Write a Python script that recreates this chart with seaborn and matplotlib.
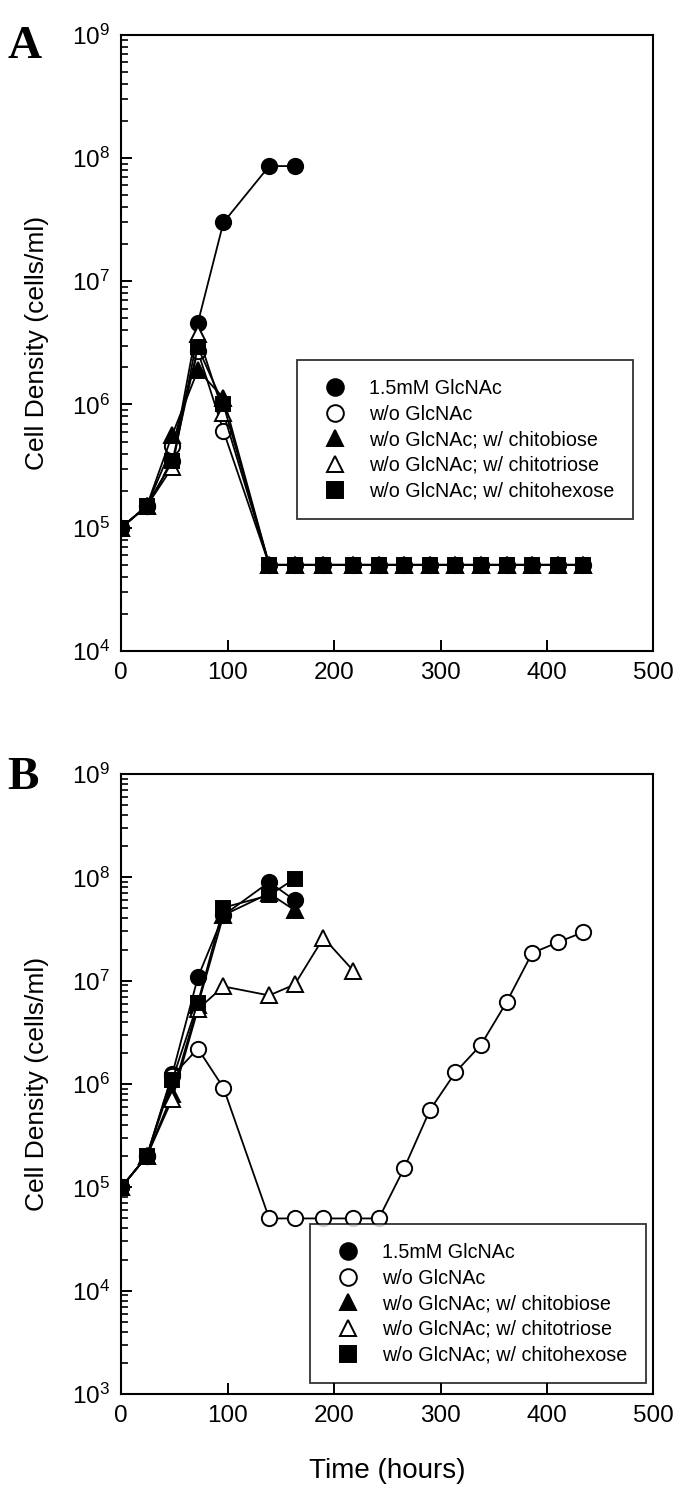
import matplotlib
matplotlib.use("Agg")
import matplotlib.pyplot as plt
from matplotlib.lines import Line2D
from matplotlib.ticker import LogLocator, LogFormatterMathtext, MultipleLocator, NullFormatter
import pandas as pd
import seaborn as sns

# ---- data ----
labels = ["1.5mM GlcNAc", "w/o GlcNAc", "w/o GlcNAc; w/ chitobiose",
          "w/o GlcNAc; w/ chitotriose", "w/o GlcNAc; w/ chitohexose"]

hours_short = [0, 24, 48, 72, 96, 139, 163]
hours_tri = [0, 24, 48, 72, 96, 139, 163, 190, 218]
hours_long = [0, 24, 48, 72, 96, 139, 163, 190, 218, 242, 266, 290, 314, 338, 362, 386, 410, 434]

# panel A
glc_a = [1e5, 1.5e5, 3.5e5, 4.6e6, 3.0e7, 8.6e7, 8.6e7]
woglc_a = [1e5, 1.5e5, 4.6e5, 2.7e6, 6.1e5, 5e4, 5e4, 5e4, 5e4, 5e4, 5e4, 5e4, 5e4, 5e4, 5e4, 5e4, 5e4, 5e4]
biose_a = [1e5, 1.5e5, 5.7e5, 1.9e6, 1.13e6, 5e4, 5e4, 5e4, 5e4, 5e4, 5e4, 5e4, 5e4, 5e4, 5e4, 5e4, 5e4, 5e4]
triose_a = [1e5, 1.5e5, 3.1e5, 3.7e6, 8.5e5, 5e4, 5e4, 5e4, 5e4, 5e4, 5e4, 5e4, 5e4, 5e4, 5e4, 5e4, 5e4, 5e4]
hexose_a = [1e5, 1.5e5, 3.45e5, 2.9e6, 1.0e6, 5e4, 5e4, 5e4, 5e4, 5e4, 5e4, 5e4, 5e4, 5e4, 5e4, 5e4, 5e4, 5e4]

# panel B
glc_b = [1e5, 2e5, 1.25e6, 1.08e7, 4.3e7, 9.0e7, 6.0e7]
woglc_b = [1e5, 2e5, 1.2e6, 2.2e6, 9.2e5, 5e4, 5e4, 5e4, 5e4, 5e4,
           1.55e5, 5.6e5, 1.3e6, 2.4e6, 6.2e6, 1.85e7, 2.35e7, 2.95e7]
biose_b = [1e5, 2e5, 8e5, 5.8e6, 4.3e7, 7.0e7, 4.8e7]
triose_b = [1e5, 2e5, 7.2e5, 5.3e6, 8.8e6, 7.2e6, 9.2e6, 2.6e7, 1.25e7]
hexose_b = [1e5, 2e5, 1.1e6, 6.1e6, 5.1e7, 6.7e7, 9.7e7]

markers = ["o", "o", "^", "^", "s"]
faces = ["black", "white", "black", "white", "black"]


def long_table(series):
    rows = []
    for lab, (t, v) in zip(labels, series):
        rows.append(pd.DataFrame({"hours": t, "cells": v, "series": lab}))
    return pd.concat(rows, ignore_index=True)


df_a = long_table([(hours_short, glc_a), (hours_long, woglc_a), (hours_long, biose_a),
                   (hours_long, triose_a), (hours_long, hexose_a)])
df_b = long_table([(hours_short, glc_b), (hours_long, woglc_b), (hours_short, biose_b),
                   (hours_tri, triose_b), (hours_short, hexose_b)])

sns.set_style("white")
plt.rcParams["font.family"] = ["Liberation Sans", "DejaVu Sans"]
plt.rcParams["mathtext.fontset"] = "custom"
plt.rcParams["mathtext.rm"] = "Liberation Sans"
plt.rcParams["mathtext.default"] = "regular"
for key in ["text.color", "axes.labelcolor", "xtick.color", "ytick.color"]:
    plt.rcParams[key] = "black"

fig = plt.figure(figsize=(6.85, 14.92), dpi=100)
ax_a = fig.add_axes([0.177, 0.5637, 0.777, 0.413])
ax_b = fig.add_axes([0.177, 0.0657, 0.777, 0.4155])


def draw(ax, df, ylim, leg_anchor):
    for lab, m, fc in zip(labels, markers, faces):
        sub = df[df["series"] == lab]
        sns.lineplot(data=sub, x="hours", y="cells", ax=ax, sort=False, estimator=None,
                     color="black", linewidth=1.3, marker=m, markersize=11 if m != "s" else 10,
                     markerfacecolor=fc, markeredgecolor="black", markeredgewidth=1.4,
                     legend=False)
    ax.set_yscale("log")
    ax.set_ylim(*ylim)
    ax.set_xlim(0, 500)
    ax.xaxis.set_major_locator(MultipleLocator(100))
    ax.yaxis.set_major_locator(LogLocator(base=10))
    ax.yaxis.set_minor_locator(LogLocator(base=10, subs=range(2, 10)))
    ax.yaxis.set_major_formatter(LogFormatterMathtext())
    ax.yaxis.set_minor_formatter(NullFormatter())
    ax.tick_params(axis="both", which="major", direction="in", length=8, width=1.4,
                   labelsize=17.5, pad=8, left=True, bottom=True, colors="black")
    ax.tick_params(axis="y", which="minor", direction="in", length=5, width=1.2, left=True)
    for sp in ax.spines.values():
        sp.set_color("black")
        sp.set_linewidth(1.5)
    ax.set_ylabel("Cell Density (cells/ml)", fontsize=19)
    ax.yaxis.set_label_coords(-0.135, 0.5)

    handles = [Line2D([], [], linestyle="none", marker=m, color="black", markerfacecolor=fc,
                      markeredgecolor="black", markersize=12 if m != "s" else 11, markeredgewidth=1.4)
               for m, fc in zip(markers, faces)]
    leg = ax.legend(handles, labels, loc="upper left", bbox_to_anchor=leg_anchor,
                    fontsize=14.2, frameon=True, fancybox=False, borderpad=0.95,
                    labelspacing=0.34, handlelength=1.95, handletextpad=0.72, borderaxespad=0)
    leg.get_frame().set_edgecolor("black")
    leg.get_frame().set_linewidth(1.3)


draw(ax_a, df_a, (1e4, 1e9), (0.331, 0.472))
draw(ax_b, df_b, (1e3, 1e9), (0.355, 0.274))
ax_a.set_xlabel("")
ax_b.set_xlabel("Time (hours)", fontsize=20, labelpad=22)

fig.text(25 / 685, 1 - 47 / 1492, "A", family="Liberation Serif", weight="bold",
         size=34, ha="center", va="center")
fig.text(23 / 685, 1 - 778 / 1492, "B", family="Liberation Serif", weight="bold",
         size=34, ha="center", va="center")

fig.savefig("out.png", dpi=100)
